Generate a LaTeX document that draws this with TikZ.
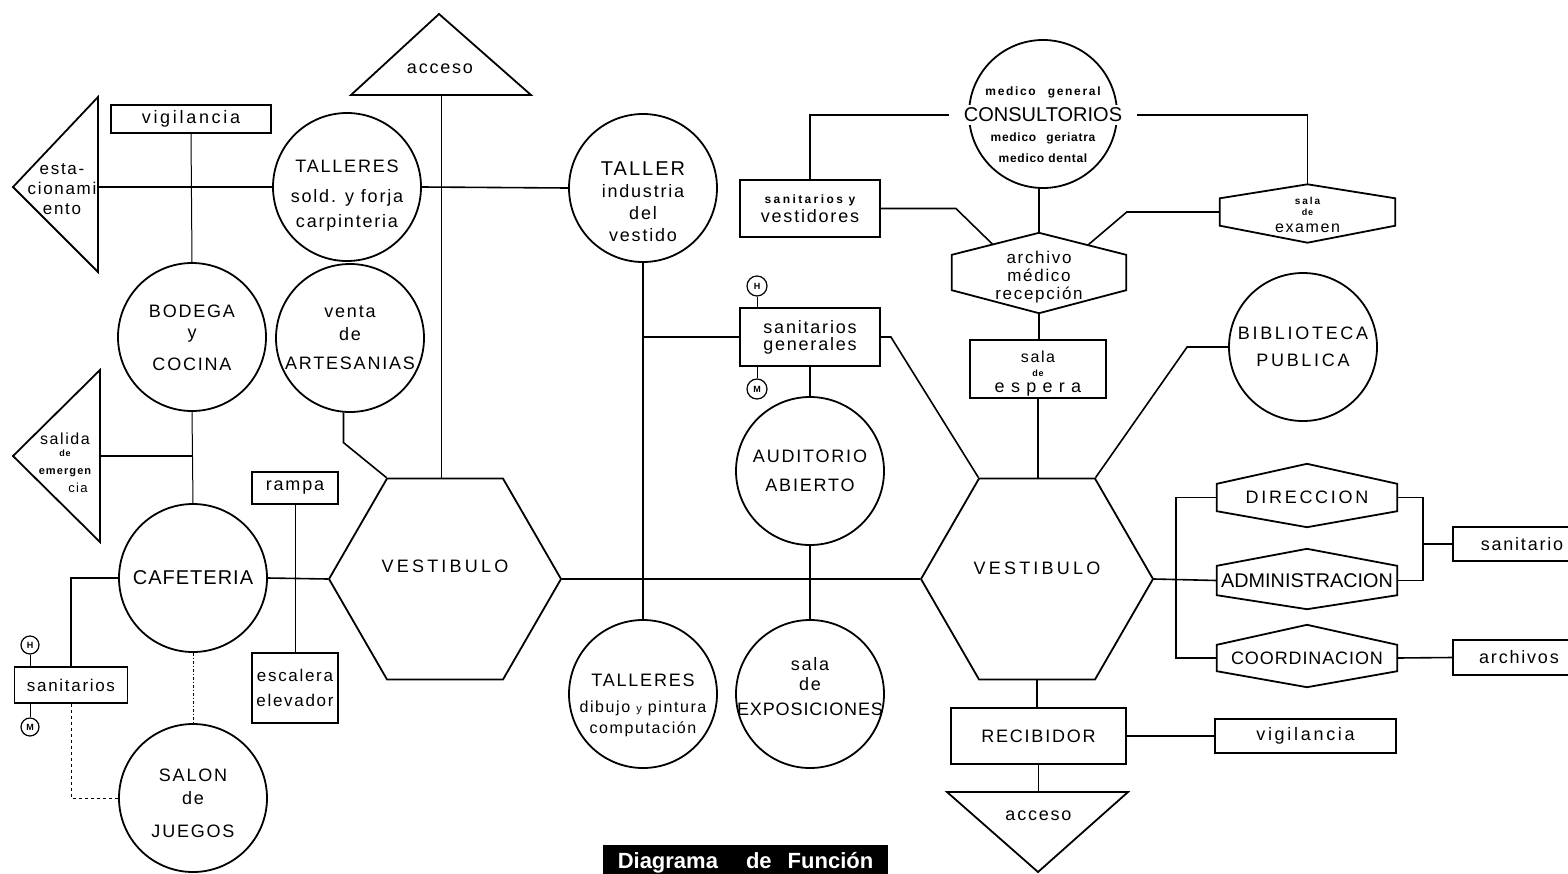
\documentclass[tikz,border=0pt]{standalone}
\usepackage{fontspec}
\setmainfont[LetterSpace=10]{Liberation Sans}
\newfontfamily\ftight{Liberation Sans}
\newfontfamily\fln[LetterSpace=5]{Liberation Sans}
\newfontfamily\flsix[LetterSpace=6]{Liberation Sans}
\newfontfamily\flf[LetterSpace=14]{Liberation Sans}
\newfontfamily\fls[LetterSpace=15]{Liberation Sans}
\newfontfamily\flv[LetterSpace=18]{Liberation Sans}
\newfontfamily\flw[LetterSpace=20]{Liberation Sans}
\newfontfamily\flx[LetterSpace=35]{Liberation Sans}
\usetikzlibrary{shapes.geometric,calc}
\newcommand\fz[2]{\fontsize{#1}{#2}\selectfont}
\newcommand\flathex[3]{\draw[shp] (#1.north west) -- ($(#1.north)+(0,-#2)$) -- (#1.north east) -- (#1.south east) -- ($(#1.south)+(0,#3)$) -- (#1.south west) -- cycle;}
\begin{document}
\begin{tikzpicture}[x=1pt,y=-1pt,
  shp/.style={draw=black, line width=1.8pt},
  circ/.style={shp, circle, minimum size=148pt, inner sep=0pt, align=center, font=\fz{18}{20}},
  rbox/.style={shp, rectangle, inner sep=0pt, align=center, font=\fz{18}{20}},
  hexv/.style={shp, regular polygon, regular polygon sides=6, minimum size=232pt, inner sep=0pt},
  flatb/.style={rectangle, inner sep=0pt, minimum width=180pt, align=center, font=\fz{18}{20}},
  conn/.style={line width=1.6pt},
  tconn/.style={line width=1pt},
  lbl/.style={inner sep=0pt, align=center, font=\fz{18}{20}},
  hm/.style={draw, circle, line width=1.2pt, minimum size=18pt, inner sep=0pt, font=\bfseries\fz{9}{9}}]
\fill[white] (0,0) rectangle (1568,873);
\useasboundingbox (0,0) rectangle (1568,873);

% ---------- left column ----------
\draw[shp] (98,97) -- (98,272) -- (13,187) -- cycle;
\coordinate (estR) at (98,187);
\node[lbl, font=\fz{17}{20}] (estT) at (62,189) {esta-\\cionami\\ento};

\draw[shp] (100,370) -- (100,542) -- (13,456) -- cycle;
\coordinate (salR) at (100,456);
\node[lbl, font=\fz{12}{12}] (salT) at (65,463) {{\fz{16}{16}salida}\\{\bfseries\fz{9}{9}de}\\[6pt]{\bfseries\fz{11}{11}emergen}\\[6pt]\hspace*{26pt}{\fz{13}{13}cia}};

\node[rbox, minimum width=160pt, minimum height=28pt] (vig1) at (191,119) {{\fls vigilancia}};
\node[circ, label={[lbl,yshift=-8.5pt]center:{TALLERES\\[10pt]sold. y forja\\[5pt]carpinteria}}] (talls) at (347,187) {};
\node[circ, label={[lbl,font=\fz{18}{22},yshift=-3pt]center:{\vphantom{Ag}BODEGA\\[-1pt]\vphantom{Ag}y\\[10pt]\vphantom{Ag}COCINA}}] (bod) at (192,337) {};
\node[circ] (art) at (350,338) {venta\\[3pt]de\\[9pt]ARTESANIAS};
\node[circ, font=\fln\fz{20}{22}] (caf) at (193,578) {CAFETERIA};
\node[circ, label={[lbl,yshift=-5pt]center:{SALON\\[3pt]de\\[13pt]JUEGOS}}] (sal) at (193,798) {};

\node[rbox, minimum width=86pt, minimum height=32pt] (ramp) at (295,488) {rampa};
\node[rbox, minimum width=86pt, minimum height=70pt, font=\fz{17}{20}] (esc) at (295,688) {escalera\\[5pt]elevador};
\node[rbox, minimum width=113pt, minimum height=36pt, font=\fz{17}{20}] (san1) at (71,685) {sanitarios};
\node[hm] (h1) at (30,645) {H};
\node[hm] (m1) at (30,727) {M};

\draw[shp] (351,95) -- (531,95) -- (439,14) -- cycle;
\node[lbl] (acc1T) at (440,69) {acceso};
\coordinate (acc1B) at (441,95);

\node[hexv, label={[lbl,yshift=13pt]center:{\flv VESTIBULO}}] (vl) at (445,579) {};

% ---------- middle ----------
\node[circ, label={[lbl,font=\fz{18}{22},yshift=-14pt]center:{{\fz{20}{22}TALLER}\\industria\\del\\vestido}}] (taller) at (643,188) {};
\node[circ, label={[lbl,yshift=-11.5pt]center:{TALLERES\\[6pt]{\fz{16}{16}dibujo {\fz{11}{11}y} pintura}\\[1pt]{\fz{16}{16}computación}}}] (tald) at (643,694) {};
\node[circ] (aud) at (810,471) {AUDITORIO\\[9pt]ABIERTO};
\node[circ, label={[lbl,yshift=7.5pt]center:{sala\\de\\[5pt]{\fln EXPOSICIONES}}}] (exp) at (810,694) {};

\node[rbox, minimum width=140pt, minimum height=57pt] (sv) at (810,208.5) {{\flw\bfseries\fz{12}{12}sanitarios y}\\[-1pt]vestidores};
\node[rbox, minimum width=140pt, minimum height=58pt] (sg) at (810,337) {sanitarios\\[-3pt]generales};
\node[hm, minimum size=20pt] (h2) at (757,286) {H};
\node[hm, minimum size=20pt] (m2) at (757,389) {M};

% ---------- medical block ----------
\node[shp, circle, minimum size=148pt, inner sep=0pt] (cons) at (1043,114) {};
\node[fill=white, inner xsep=15pt, inner ysep=3pt, font=\ftight\fz{20}{22}] (consT) at (1043,115) {CONSULTORIOS};
\node[lbl, font=\flf\bfseries\fz{12}{12}] (consA) at (1043,92) {medico\hspace{12pt}general};
\node[lbl, font=\flsix\bfseries\fz{12}{21}] (consB) at (1043,148) {medico\hspace{10pt}geriatra\\medico dental};

\node[flatb, minimum width=174pt, minimum height=35pt, label={[lbl,font=\fz{17}{18},yshift=-5pt]center:{archivo\\médico\\recepción}}] (arch) at (1039,272.5) {};
\flathex{arch}{22}{23}
\coordinate (archT) at ($(arch.north)+(0,-22)$);
\coordinate (archB) at ($(arch.south)+(0,23)$);
\coordinate (archUL) at ($(archT)!0.53!(arch.north west)$);
\coordinate (archUR) at ($(archT)!0.56!(arch.north east)$);

\node[flatb, minimum width=175pt, minimum height=27pt, label={[lbl,font=\fz{16}{11},yshift=-3pt]center:{{\flw\bfseries\fz{10}{10}sala}\\{\bfseries\fz{9}{9}de}\\[6pt]examen}}] (sx) at (1307.5,212) {};
\flathex{sx}{14}{17}
\coordinate (sxT) at ($(sx.north)+(0,-14)$);

\node[rbox, minimum width=136pt, minimum height=58pt, label={[lbl,font=\fz{18}{14},yshift=-5pt]center:{{\fz{16}{16}sala}\\{\bfseries\fz{9}{9}de}\\[2pt]{\flx espera}}}] (esp) at (1038,369) {};

\node[circ] (bib) at (1303,347) {{\fls BIBLIOTECA}\\[7pt]{\fls PUBLICA}};

\node[hexv, label={[lbl,yshift=11pt]center:{\flv VESTIBULO}}] (vr) at (1037,579) {};

% ---------- administration ----------
\node[flatb, minimum height=27pt] (dir) at (1307,497.5) {{\fls DIRECCION}};
\flathex{dir}{20}{16}
\node[flatb, minimum height=29pt, font=\ftight\fz{19.8}{20}] (adm) at (1307,580.5) {ADMINISTRACION};
\flathex{adm}{17}{14}
\node[flatb, minimum height=26pt, font=\fln\fz{18}{20}] (coo) at (1307,658) {COORDINACION};
\flathex{coo}{20}{16}
\coordinate (jx) at ($(dir.east)+(26,0)$);

\node[rbox, minimum width=138pt, minimum height=34pt] (san2) at (1522,544) {sanitario};
\node[rbox, minimum width=132pt, minimum height=35pt] (arc2) at (1519,657.5) {archivos};

\node[rbox, minimum width=175pt, minimum height=56pt] (rec) at (1038.5,736) {RECIBIDOR};
\node[rbox, minimum width=181pt, minimum height=34pt] (vig2) at (1305.5,736) {{\fls vigilancia}};

\draw[shp] (947,792) -- (1128,792) -- (1038,872) -- cycle;
\node[lbl] (acc2T) at (1038.5,816) {acceso};
\coordinate (acc2top) at (1038.5,792);

\node[fill=black, minimum width=285pt, minimum height=35pt, inner sep=0pt, text=white, font=\ftight\bfseries\fz{22}{24}] (diag) at (745.5,862.5) {Diagrama\hspace{28pt}de\hspace{16pt}Función};

% ---------- connectors ----------
\draw[conn] (estR) -- (talls.west);
\draw[tconn] (vig1.south) -- (bod.north);
\draw[conn] (talls.east) -- (taller.west);
\draw[tconn] (acc1B) -- (acc1B |- vl.north);
\draw[conn] (art.265) -- ++(0,30) -- (vl.120);
\draw[tconn] (bod.south) -- (caf.north);
\draw[conn] (salR) -- (salR -| bod.south);
\draw[conn] (caf.east) -- (vl.180);
\draw[tconn] (ramp.south) -- (esc.north);
\draw[conn] (san1.north) |- (caf.west);
\draw[tconn, dashed] (san1.south) |- (sal.west);
\draw[tconn, dash dot] (caf.south) -- (sal.north);
\draw[tconn] (h1.south) -- (h1.south |- san1.north);
\draw[tconn] (m1.north) -- (m1.north |- san1.south);

\draw[conn] (taller.south) -- (tald.north);
\draw[conn] (taller.south |- sg.west) -- (sg.west);
\draw[tconn] (h2.south) -- (h2.south |- sg.north);
\draw[tconn] (m2.north) -- (m2.north |- sg.south);
\draw[conn] (sg.south) -- (aud.north);
\draw[conn] (aud.south) -- (exp.north);
\draw[conn] (sg.east) -- ++(10,0) -- (vr.120);
\draw[conn] (vl.0) -- (vr.180);

\draw[conn] (sv.north) |- (consT.west);
\draw[conn] (consT.east) -| (sxT);
\draw[conn] (sv.east) -- ++(75,0) -- (archUL);
\draw[conn] (sx.west) -- ++(-93,0) -- (archUR);
\draw[conn] (archT) -- (archT |- cons.south);
\draw[conn] (archB) -- (archB |- esp.north);
\draw[conn] (esp.south) -- (esp.south |- vr.north);
\draw[conn] (bib.west) -- ++(-41,0) -- (vr.60);

\draw[conn] (vr.0) -- (adm.west);
\draw[conn] (dir.west) -- ++(-41,0) |- (coo.west);
\draw[conn] (dir.east) -- (jx) |- (adm.east);
\draw[conn] (san2.west) -- (jx |- san2.west);
\draw[conn] (coo.east) -- (arc2.west);
\draw[conn] (vr.south) -- (vr.south |- rec.north);
\draw[conn] (rec.east) -- (vig2.west);
\draw[conn] (rec.south) -- (acc2top);
\end{tikzpicture}
\end{document}
